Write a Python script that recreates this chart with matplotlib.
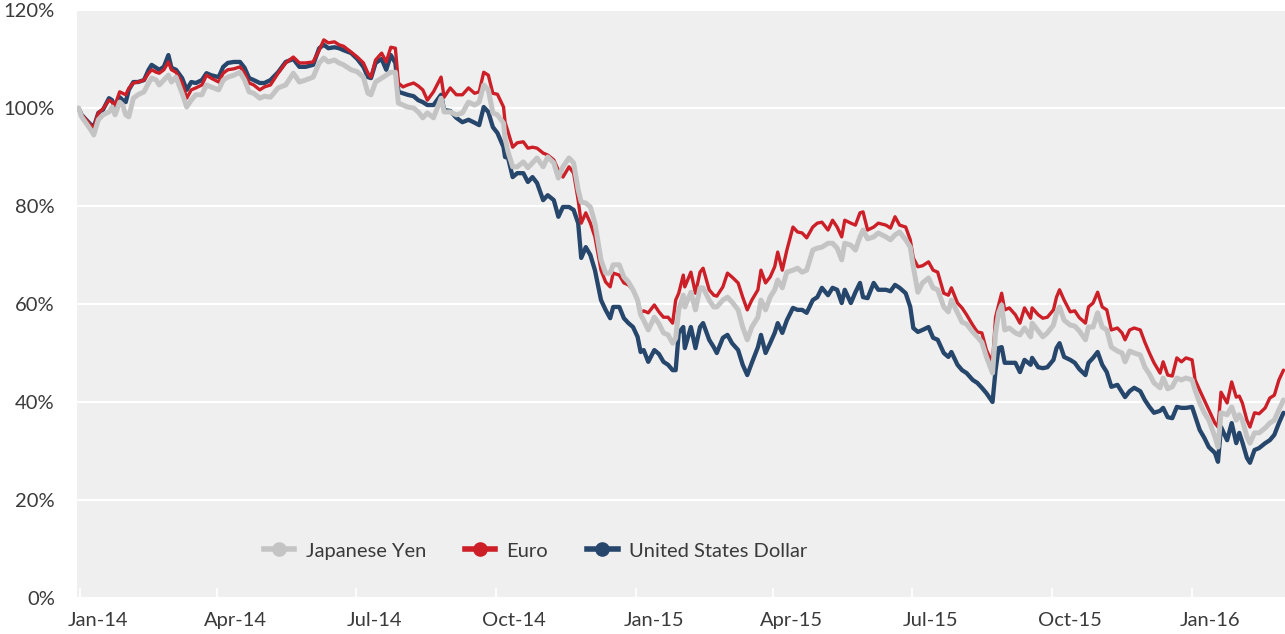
import matplotlib
matplotlib.use("Agg")
import matplotlib.pyplot as plt
import matplotlib.dates as mdates
from matplotlib.lines import Line2D
import numpy as np

plt.rcParams["font.family"] = ["Lato", "DejaVu Sans"]

# index level (%) of three currency series, days counted from 31 Dec 2013
START = np.datetime64("2013-12-31")
DAYS = [
    0, 2, 5, 9, 10, 13, 16, 20, 22, 24, 27, 29, 31, 33, 36, 39, 43, 46, 48, 51,
    53, 56, 59, 61, 64, 68, 71, 74, 77, 81, 84, 87, 92, 95, 98, 102, 106, 109, 112, 115,
    119, 122, 126, 131, 136, 141, 145, 149, 154, 158, 161, 164, 168, 171, 174, 179, 183, 187, 190, 192,
    195, 199, 202, 205, 208, 210, 213, 216, 220, 223, 226, 229, 233, 238, 240, 244, 248, 252, 256, 260,
    263, 266, 269, 272, 275, 279, 280, 282, 285, 288, 292, 295, 298, 301, 305, 308, 312, 315, 318, 322,
    325, 328, 330, 333, 336, 339, 343, 346, 349, 351, 355, 358, 361, 364, 367, 369, 371, 374, 378, 381,
    384, 387, 390, 392, 394, 397, 398, 402, 405, 408, 410, 414, 417, 419, 423, 426, 429, 433, 436, 439,
    442, 446, 448, 451, 454, 457, 459, 462, 465, 469, 472, 475, 478, 482, 485, 488, 492, 495, 498, 501,
    503, 507, 510, 513, 515, 518, 522, 525, 530, 533, 536, 539, 543, 546, 548, 551, 554, 558, 561, 564,
    568, 571, 573, 577, 580, 583, 587, 590, 593, 596, 600, 602, 604, 606, 608, 611, 615, 618, 621, 625,
    626, 630, 633, 636, 640, 642, 644, 647, 651, 654, 657, 661, 663, 666, 669, 672, 675, 678, 682, 685,
    687, 690, 693, 697, 700, 703, 706, 710, 712, 715, 718, 721, 724, 727, 731, 733, 736, 739, 742, 746,
    748, 750, 754, 757, 760, 762, 764, 767, 769, 772, 775, 779, 782, 785, 788, 791,
]
JPY = [
    100, 98.2, 96.9, 95.1, 94.5, 97.6, 98.6, 99.2, 100.2, 98.6, 101.2, 100.6, 98.6, 98.2, 102.0, 102.7, 103.3, 105.1, 106.1, 105.7,
    104.7, 105.7, 106.7, 105.3, 106.3, 103.0, 100.2, 101.6, 102.7, 102.7, 104.7, 104.3, 103.7, 105.7, 106.3, 106.7, 107.3, 105.7, 103.3, 103.0,
    102.0, 102.4, 102.2, 104.1, 104.7, 107.1, 105.3, 105.7, 106.3, 109.2, 110.2, 109.4, 109.8, 109.2, 108.8, 107.8, 107.4, 106.3, 103.0, 102.7,
    105.3, 106.1, 106.7, 107.3, 107.3, 101.0, 100.6, 100.2, 100.0, 99.2, 98.0, 99.0, 98.0, 102.0, 99.2, 99.2, 98.6, 99.0, 101.2, 100.6,
    101.2, 104.7, 103.7, 99.0, 98.6, 96.9, 93.9, 91.0, 88.0, 88.0, 89.0, 87.8, 88.8, 89.8, 88.0, 90.0, 88.8, 85.7, 88.0, 89.8,
    88.8, 83.3, 80.8, 80.6, 79.8, 76.5, 69.0, 66.3, 66.3, 68.0, 68.0, 65.5, 64.5, 62.9, 60.8, 57.8, 56.7, 54.7, 57.3, 56.0,
    54.1, 53.7, 52.0, 53.0, 58.8, 61.8, 59.4, 62.4, 58.8, 63.3, 63.3, 60.8, 59.4, 59.4, 60.8, 61.4, 60.4, 58.8, 55.3, 52.7,
    55.3, 57.3, 60.8, 58.8, 61.4, 62.9, 64.9, 63.3, 66.5, 66.9, 67.3, 66.5, 66.9, 71.0, 71.4, 71.6, 72.4, 72.4, 71.4, 69.0,
    72.4, 72.0, 71.0, 73.7, 75.1, 73.3, 73.7, 74.5, 73.7, 73.1, 74.1, 74.7, 73.1, 71.6, 67.6, 62.4, 64.3, 65.3, 63.3, 62.9,
    59.4, 58.4, 60.8, 58.2, 56.3, 55.9, 54.3, 53.3, 52.2, 49.2, 45.9, 54.1, 58.2, 59.8, 54.7, 55.1, 54.1, 53.7, 55.1, 53.3,
    56.1, 54.5, 53.3, 54.1, 55.7, 58.2, 59.4, 56.7, 55.7, 55.5, 54.5, 52.7, 55.3, 55.3, 58.2, 55.3, 54.7, 51.2, 50.4, 50.0,
    48.2, 50.4, 50.0, 49.6, 47.1, 45.7, 43.9, 42.9, 44.9, 42.7, 43.1, 44.9, 44.5, 44.9, 44.5, 42.4, 39.8, 37.8, 36.3, 32.9,
    30.8, 37.8, 37.4, 39.0, 36.3, 37.4, 36.3, 32.9, 31.6, 33.7, 33.7, 34.7, 35.7, 36.3, 38.4, 40.4,
]
EUR = [
    100, 98.6, 97.6, 96.1, 96.1, 99.0, 99.8, 101.6, 101.2, 100.6, 103.3, 103.0, 102.7, 104.0, 105.1, 105.3, 105.7, 107.1, 107.8, 107.3,
    107.1, 107.8, 109.4, 107.8, 107.3, 105.1, 102.0, 103.7, 104.1, 104.7, 106.7, 106.1, 105.3, 107.1, 107.8, 108.0, 108.4, 107.1, 105.1, 104.7,
    103.7, 104.3, 104.7, 107.1, 109.2, 110.4, 109.2, 109.2, 109.4, 111.8, 113.9, 113.3, 113.5, 112.9, 112.6, 111.4, 110.4, 109.2, 107.1, 106.3,
    109.8, 111.2, 109.4, 112.4, 112.2, 105.1, 104.3, 104.7, 105.1, 104.5, 103.7, 101.6, 103.3, 106.3, 102.2, 104.1, 102.7, 102.7, 104.1, 103.0,
    103.3, 107.3, 106.7, 103.0, 102.8, 100.2, 97.1, 95.1, 92.0, 92.9, 93.1, 91.8, 92.0, 91.8, 90.8, 90.4, 89.4, 87.3, 85.9, 88.0,
    86.7, 81.2, 76.5, 78.6, 76.5, 73.7, 66.9, 64.5, 63.5, 66.3, 65.9, 64.3, 63.9, 62.9, 60.8, 58.2, 58.6, 58.2, 59.8, 58.4,
    57.3, 57.3, 56.1, 60.8, 62.2, 65.9, 63.5, 66.5, 62.2, 66.5, 67.3, 62.9, 61.8, 61.6, 63.5, 66.3, 65.5, 64.3, 61.4, 58.8,
    60.8, 62.9, 66.9, 64.3, 65.5, 67.6, 70.6, 66.9, 71.0, 75.7, 74.7, 74.5, 73.5, 75.7, 76.5, 76.7, 75.1, 77.1, 75.7, 73.7,
    77.1, 76.5, 76.1, 78.6, 78.8, 75.1, 75.7, 76.5, 76.1, 75.5, 77.8, 76.1, 75.7, 73.1, 69.4, 67.6, 67.8, 68.6, 66.9, 66.5,
    62.2, 61.8, 63.3, 60.2, 59.2, 57.8, 55.7, 54.3, 54.1, 50.6, 48.0, 57.3, 59.8, 62.2, 58.8, 59.2, 57.8, 56.1, 59.2, 57.1,
    59.2, 57.8, 57.1, 57.3, 58.8, 61.4, 62.9, 60.8, 58.4, 58.6, 57.2, 56.1, 59.4, 60.2, 62.4, 59.4, 58.8, 54.7, 55.1, 54.1,
    52.7, 54.7, 55.1, 54.7, 52.2, 50.0, 48.0, 45.9, 48.2, 45.5, 45.3, 49.0, 48.2, 49.0, 48.6, 44.5, 42.4, 40.4, 38.4, 35.7,
    34.9, 42.0, 39.8, 44.1, 41.0, 41.2, 39.8, 36.3, 34.9, 37.8, 37.6, 38.8, 40.8, 41.4, 44.5, 46.5,
]
USD = [
    100, 98.6, 97.6, 96.3, 96.1, 99.0, 99.6, 102.0, 101.6, 100.0, 102.2, 101.6, 101.2, 103.7, 105.3, 105.3, 105.7, 107.8, 108.8, 108.2,
    107.8, 108.4, 110.8, 108.2, 107.8, 106.1, 103.7, 105.3, 105.1, 105.7, 107.1, 106.7, 106.3, 108.4, 109.2, 109.4, 109.4, 108.2, 106.1, 105.7,
    105.1, 105.1, 105.7, 107.3, 109.4, 110.0, 108.4, 108.4, 108.8, 112.2, 112.9, 112.2, 112.4, 112.2, 111.8, 111.2, 110.0, 108.4, 106.3, 106.1,
    109.2, 110.0, 107.8, 110.8, 109.2, 103.3, 103.0, 102.7, 102.4, 101.6, 101.2, 100.6, 100.6, 102.7, 99.6, 99.4, 98.0, 97.1, 97.6, 97.0,
    96.5, 100.2, 99.2, 96.1, 94.9, 92.0, 90.0, 89.8, 85.9, 86.7, 86.7, 84.9, 85.9, 84.7, 81.2, 82.2, 81.2, 77.8, 79.8, 79.8,
    79.2, 76.5, 69.4, 71.6, 70.0, 66.9, 60.8, 58.8, 57.1, 59.4, 59.4, 57.1, 56.1, 55.3, 53.3, 50.2, 50.6, 48.2, 50.6, 49.8,
    48.2, 47.6, 46.5, 46.5, 54.1, 55.3, 51.0, 55.3, 51.0, 55.3, 56.1, 52.7, 51.2, 50.0, 53.1, 53.7, 52.0, 50.6, 47.6, 45.5,
    48.0, 51.2, 53.7, 50.0, 52.0, 54.1, 56.1, 54.1, 56.7, 59.2, 58.8, 58.8, 58.2, 60.8, 61.4, 63.3, 61.8, 63.3, 62.9, 60.2,
    62.9, 60.2, 62.4, 64.3, 61.4, 61.2, 64.3, 62.9, 62.9, 62.6, 63.9, 63.3, 62.2, 59.4, 55.1, 54.3, 54.7, 55.3, 53.1, 52.7,
    50.0, 49.2, 50.2, 47.6, 46.5, 45.9, 44.5, 43.9, 42.9, 41.8, 40.0, 46.5, 51.0, 51.2, 48.0, 48.0, 48.0, 46.1, 48.6, 47.6,
    49.0, 47.1, 46.9, 47.1, 48.6, 51.0, 52.0, 49.2, 48.6, 48.0, 46.7, 45.5, 48.0, 49.0, 50.2, 47.6, 46.1, 43.1, 43.5, 42.0,
    41.0, 42.2, 42.9, 42.2, 40.4, 39.0, 37.8, 38.2, 38.8, 36.9, 36.7, 39.0, 38.8, 38.8, 39.0, 37.1, 34.3, 32.7, 30.8, 29.6,
    27.8, 34.9, 32.2, 35.7, 31.6, 33.7, 31.8, 28.6, 27.6, 30.2, 30.6, 31.6, 32.2, 33.3, 35.7, 37.8,
]

SERIES = ["Japanese Yen", "Euro", "United States Dollar"]
COLORS = {"Japanese Yen": "#c4c4c4", "Euro": "#cc1f27", "United States Dollar": "#26466c"}
WIDTHS = {"Japanese Yen": 3.6, "Euro": 2.4, "United States Dollar": 3.1}
TEXT = "#3a3a3a"
BG = "#efefef"
FS = 14.5

dates = START + np.array(DAYS).astype("timedelta64[D]")
values = {"Japanese Yen": JPY, "Euro": EUR, "United States Dollar": USD}

fig = plt.figure(figsize=(12.85, 6.34), dpi=100)
ax = fig.add_axes([77 / 1285, 36 / 634, 1208 / 1285, 588 / 634])
ax.set_facecolor(BG)

# dollar at the bottom, yen drawn last
for name, z in [("United States Dollar", 3), ("Euro", 4), ("Japanese Yen", 5)]:
    ax.plot(dates, values[name], color=COLORS[name], lw=WIDTHS[name],
            solid_joinstyle="round", solid_capstyle="round", zorder=z)

ax.set_ylim(0, 120)
ax.set_yticks(np.arange(0, 121, 20))
ax.set_yticklabels([f"{v}%" for v in range(0, 121, 20)])
ax.yaxis.grid(True, color="white", lw=1.6, zorder=1)
ax.set_axisbelow(True)

ax.set_xlim(START - np.timedelta64(1, "D"), START + np.timedelta64(792, "D"))
# tick marks at quarter starts, labels sit a little right of them
ax.xaxis.set_major_locator(mdates.MonthLocator(bymonth=[1, 4, 7, 10], bymonthday=1))
ax.xaxis.set_major_formatter(plt.NullFormatter())
ax.xaxis.set_minor_locator(mdates.MonthLocator(bymonth=[1, 4, 7, 10], bymonthday=13))
ax.xaxis.set_minor_formatter(mdates.DateFormatter("%b-%y"))
ax.tick_params(axis="x", which="major", direction="in", length=7, width=1.2, color="white")
ax.tick_params(axis="x", which="minor", length=0, pad=10, labelsize=FS, labelcolor=TEXT)
ax.tick_params(axis="y", length=0, pad=16, labelsize=FS, labelcolor=TEXT)

for s in ax.spines.values():
    s.set_visible(False)

handles = [Line2D([0], [0], color=COLORS[n], lw=4, marker="o", markersize=9.5) for n in SERIES]
leg = ax.legend(handles, SERIES, loc="center left", bbox_to_anchor=(0.155, 0.08),
                ncol=3, frameon=False, fontsize=FS, handlelength=1.5,
                handletextpad=0.55, columnspacing=1.95, borderpad=0, borderaxespad=0)
for t in leg.get_texts():
    t.set_color(TEXT)

fig.savefig("out.png", dpi=100, facecolor="white")
